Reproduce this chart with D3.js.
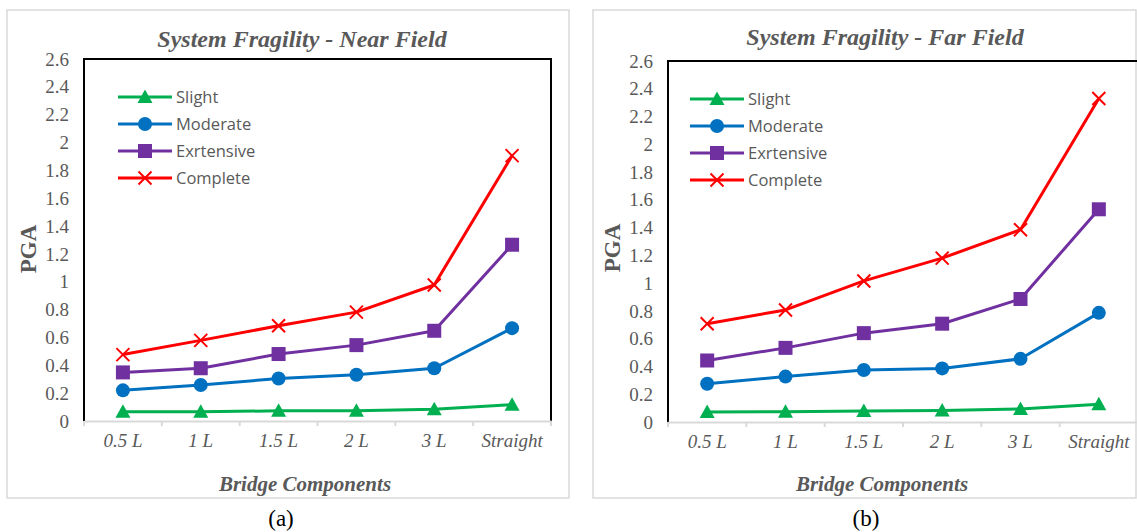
<!DOCTYPE html>
<html><head><meta charset="utf-8">
<script src="https://cdn.jsdelivr.net/npm/d3@7"></script>
<style>body{margin:0;background:#fff;}svg{display:block;}
.serif{font-family:"Liberation Serif","Times New Roman",serif;}
.sans{font-family:"Open Sans","Noto Sans",sans-serif;}
</style>
</head><body>
<svg id="c" width="1137" height="532"></svg>
<script>
const categories = ["0.5 L","1 L","1.5 L","2 L","3 L","Straight"];
const yTicks = [0,0.2,0.4,0.6,0.8,1,1.2,1.4,1.6,1.8,2,2.2,2.4,2.6];
const seriesNames = ["Slight","Moderate","Exrtensive","Complete"];
const seriesColors = ["#00B050","#0070C0","#7030A0","#FF0000"];
const seriesMarkers = ["triangle","circle","square","x"];

const nearSlight = [0.066,0.066,0.073,0.073,0.085,0.117];
const nearModerate = [0.22,0.259,0.305,0.332,0.379,0.667];
const nearExtensive = [0.349,0.379,0.481,0.545,0.648,1.266];
const nearComplete = [0.477,0.579,0.684,0.782,0.977,1.906];

const farSlight = [0.072,0.074,0.08,0.082,0.094,0.128];
const farModerate = [0.276,0.327,0.374,0.386,0.455,0.786];
const farExtensive = [0.443,0.534,0.64,0.708,0.886,1.532];
const farComplete = [0.708,0.807,1.016,1.18,1.385,2.33];

const svg = d3.select("#c");
const grey = "#595959";

function panel(cfg){
  const g = svg.append("g");
  g.append("rect").attr("x",cfg.frame[0]).attr("y",cfg.frame[1])
    .attr("width",cfg.frame[2]-cfg.frame[0]).attr("height",cfg.frame[3]-cfg.frame[1])
    .attr("fill","none").attr("stroke","#d9d9d9").attr("stroke-width",1.5);
  const x = d3.scaleBand().domain(categories).range([cfg.left,cfg.right]);
  const y = d3.scaleLinear().domain([0,2.6]).range([cfg.bottom,cfg.top]);
  g.append("path").attr("d",`M${cfg.left},${cfg.bottom}V${cfg.top}H${cfg.right}V${cfg.bottom}`)
    .attr("fill","none").attr("stroke","#000").attr("stroke-width",2);
  const ya = d3.axisLeft(y).tickValues(yTicks).tickSize(0).tickPadding(15).tickFormat(d3.format("~g"));
  const yg = g.append("g").attr("transform",`translate(${cfg.left},0)`).call(ya);
  yg.attr("font-family",null).attr("font-size",null);
  yg.select(".domain").remove();
  yg.selectAll("text").attr("class","serif").style("font-size","19px").attr("fill",grey);
  const xa = d3.axisBottom(x).tickSize(0).tickPadding(13);
  const xg = g.append("g").attr("transform",`translate(0,${cfg.bottom})`).call(xa);
  xg.attr("font-family",null).attr("font-size",null);
  xg.select(".domain").attr("stroke","#d9d9d9").attr("stroke-width",2);
  xg.selectAll("text").attr("class","serif").style("font-style","italic").style("font-size","19px").attr("fill",grey);
  const bounds = categories.map(c=>x(c)).concat([cfg.right]);
  g.selectAll(".tk").data(bounds).enter().append("line")
    .attr("x1",d=>d).attr("x2",d=>d).attr("y1",cfg.bottom).attr("y2",cfg.bottom+5)
    .attr("stroke","#d9d9d9").attr("stroke-width",2);
  const line = d3.line().x((d,i)=>x(categories[i])+x.bandwidth()/2).y(d=>y(d));
  cfg.series.forEach((vals,si)=>{
    g.append("path").datum(vals).attr("d",line).attr("fill","none")
      .attr("stroke",seriesColors[si]).attr("stroke-width",3).attr("stroke-linejoin","round");
    vals.forEach((v,i)=>marker(g,seriesMarkers[si],x(categories[i])+x.bandwidth()/2,y(v),seriesColors[si]));
  });
  seriesNames.forEach((n,i)=>{
    const ly = cfg.legend[1] + i*27;
    g.append("line").attr("x1",cfg.legend[0]).attr("x2",cfg.legend[0]+54).attr("y1",ly).attr("y2",ly)
      .attr("stroke",seriesColors[i]).attr("stroke-width",3);
    marker(g,seriesMarkers[i],cfg.legend[0]+27,ly,seriesColors[i]);
    g.append("text").attr("class","sans").attr("x",cfg.legend[0]+58).attr("y",ly).attr("dy","0.36em")
      .style("font-size","16.5px").attr("fill",grey).text(n);
  });
  g.append("text").attr("class","serif").attr("x",cfg.titleX).attr("y",cfg.titleY).attr("text-anchor","middle")
    .style("font-weight","bold").style("font-style","italic")
    .style("font-size","24px").attr("fill",grey).text(cfg.title);
  g.append("text").attr("class","serif").attr("transform",`translate(${cfg.pgaX},${cfg.pgaY}) rotate(-90)`).attr("text-anchor","middle")
    .style("font-weight","bold").style("font-size","23px").attr("fill",grey).text("PGA");
  g.append("text").attr("class","serif").attr("x",cfg.xlabX).attr("y",491).attr("text-anchor","middle")
    .style("font-weight","bold").style("font-style","italic")
    .style("font-size","21px").attr("fill",grey).text("Bridge Components");
  svg.append("text").attr("class","serif").attr("x",cfg.capX).attr("y",526).attr("text-anchor","middle")
    .style("font-size","23px").attr("fill","#000").text(cfg.caption);
}

function marker(g,type,cx,cy,col){
  if(type==="triangle"){
    g.append("path").attr("d",`M${cx},${cy-7.5}L${cx+7.5},${cy+6}L${cx-7.5},${cy+6}Z`).attr("fill",col);
  } else if(type==="circle"){
    g.append("circle").attr("cx",cx).attr("cy",cy).attr("r",7).attr("fill",col);
  } else if(type==="square"){
    g.append("rect").attr("x",cx-7).attr("y",cy-7).attr("width",14).attr("height",14).attr("fill",col);
  } else {
    g.append("path").attr("d",`M${cx-6.5},${cy-6.5}L${cx+6.5},${cy+6.5}M${cx+6.5},${cy-6.5}L${cx-6.5},${cy+6.5}`)
      .attr("stroke",col).attr("stroke-width",2);
  }
}

panel({frame:[7,10,569,498],left:84,right:551,top:59,bottom:421,
  series:[nearSlight,nearModerate,nearExtensive,nearComplete],
  legend:[118,97],title:"System Fragility - Near Field",titleX:302,titleY:47,
  pgaX:36,pgaY:249,xlabX:305,capX:281,caption:"(a)"});
panel({frame:[593,10,1136,498],left:668,right:1138,top:61,bottom:422,
  series:[farSlight,farModerate,farExtensive,farComplete],
  legend:[690,99],title:"System Fragility - Far Field",titleX:885,titleY:45,
  pgaX:620,pgaY:248,xlabX:882,capX:866,caption:"(b)"});
</script>
</body></html>
